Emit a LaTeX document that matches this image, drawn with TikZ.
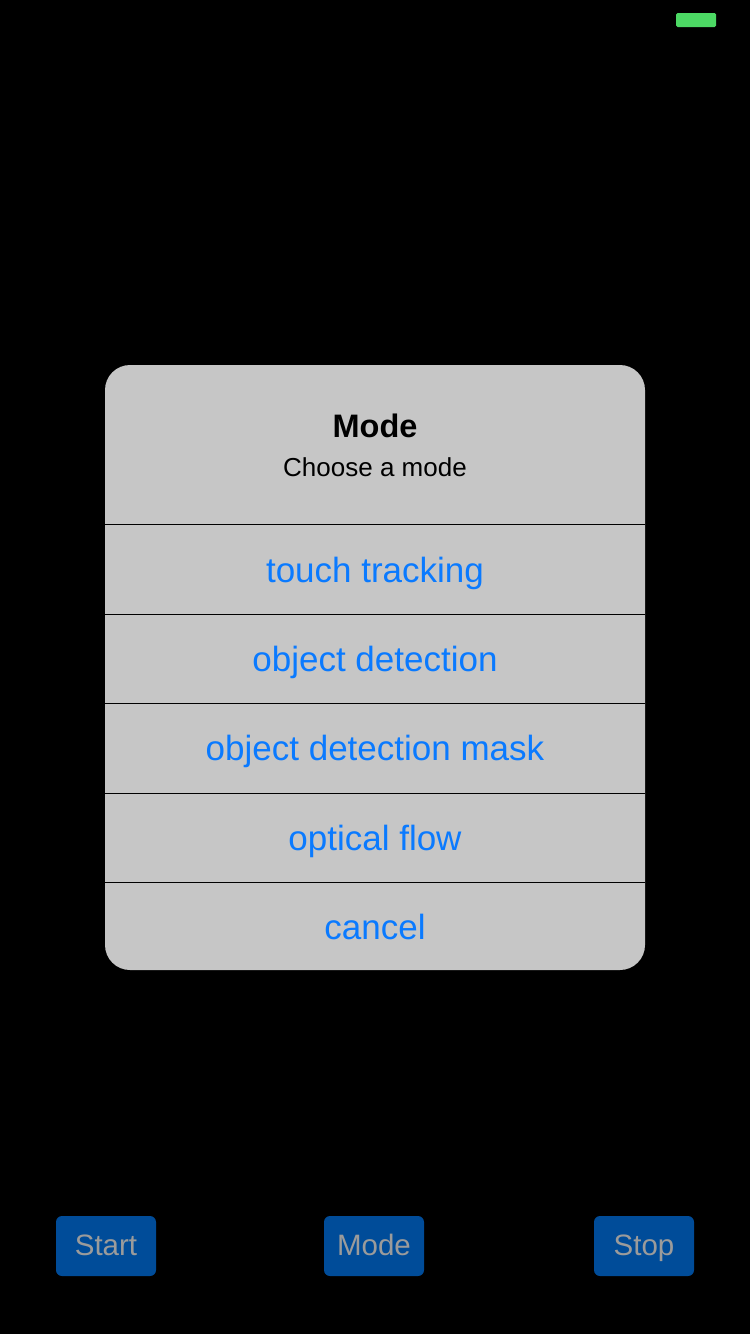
\documentclass[tikz,border=0pt]{standalone}
\usepackage{fontspec}
\setmainfont{Liberation Sans}
\usepackage{tikz}
\usepackage{xcolor}
\usetikzlibrary{positioning}

\definecolor{dlggray}{RGB}{198,198,198}
\definecolor{iosblue}{RGB}{10,122,255}
\definecolor{btnblue}{RGB}{0,76,153}
\definecolor{btntext}{RGB}{155,155,155}
\definecolor{battgreen}{RGB}{76,217,100}

\begin{document}
\begin{tikzpicture}[x=1pt,y=-1pt]
\tikzstyle{every node}+=[inner sep=0pt]
\tikzstyle{row}=[minimum width=540pt,minimum height=89pt,text height=25pt,text depth=0pt,text=iosblue,font=\fontsize{35pt}{42pt}\selectfont]
\tikzstyle{button}=[fill=btnblue,rounded corners=6pt,minimum width=100pt,minimum height=60pt,text height=19pt,text depth=0pt,text=btntext,font=\fontsize{29.5pt}{36pt}\selectfont]
\fill [black] (0,0) rectangle (750,1334);
\node [fill=battgreen,rounded corners=1.5pt,minimum width=40pt,minimum height=14pt] (battery) at (696,20) {};
\node [fill=dlggray,rounded corners=25pt,minimum width=540pt,minimum height=605pt] (dialog) at (375,667.5) {};
\node [anchor=base,font=\bfseries\fontsize{32.5pt}{38pt}\selectfont] (title) at (375,437) {Mode};
\node [anchor=base,font=\fontsize{26pt}{31pt}\selectfont] (subtitle) at (375,476) {Choose a mode};
\node [row] (touch) at (375,569.5) {touch tracking};
\node [row,below=0pt of touch] (object) {object detection};
\node [row,below=0pt of object] (mask) {object detection mask};
\node [row,below=0pt of mask] (flow) {optical flow};
\node [row,below=0pt of flow] (cancel) {cancel};
\draw [black,line width=1pt] (touch.north west) -- (touch.north east);
\draw [black,line width=1pt] (object.north west) -- (object.north east);
\draw [black,line width=1pt] (mask.north west) -- (mask.north east);
\draw [black,line width=1pt] (flow.north west) -- (flow.north east);
\draw [black,line width=1pt] (cancel.north west) -- (cancel.north east);
\node [button] (start) at (106,1246) {Start};
\node [button] (mode) at (374,1246) {Mode};
\node [button] (stop) at (644,1246) {Stop};
\end{tikzpicture}
\end{document}
